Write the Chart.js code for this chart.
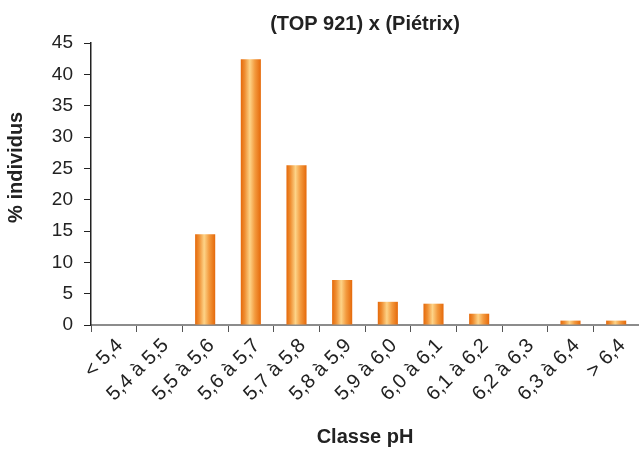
<!DOCTYPE html>
<html>
<head>
<meta charset="utf-8">
<script src="https://cdn.jsdelivr.net/npm/chart.js@4/dist/chart.umd.min.js"></script>
<style>
  html, body { margin: 0; padding: 0; background: #ffffff; }
  #wrap { width: 639px; height: 450px; }
</style>
</head>
<body>
<div id="wrap"><canvas id="c" width="639" height="450"></canvas></div>
<script>
// pH classes and share of individuals (%) in each class
const categories = ['< 5,4', '5,4 à 5,5', '5,5 à 5,6', '5,6 à 5,7', '5,7 à 5,8', '5,8 à 5,9',
                    '5,9 à 6,0', '6,0 à 6,1', '6,1 à 6,2', '6,2 à 6,3', '6,3 à 6,4', '> 6,4'];
const percentIndividus = [0, 0, 14.5, 42.4, 25.5, 7.2, 3.7, 3.4, 1.8, 0, 0.7, 0.7];
const yTicks = [0, 5, 10, 15, 20, 25, 30, 35, 40, 45];

const BAR_FRACTION = 0.44;
const FONT = "'Liberation Sans', Arial, Helvetica, sans-serif";

// cylinder-like horizontal gradient across each bar
function barGradient(context) {
  const chart = context.chart;
  const xs = chart.scales.x;
  if (!xs || xs.width === undefined) return '#f08a1c';
  const cx = xs.getPixelForValue(context.dataIndex);
  const w = xs.width / categories.length * BAR_FRACTION;
  const g = chart.ctx.createLinearGradient(cx - w / 2, 0, cx + w / 2, 0);
  g.addColorStop(0, '#e5690a');
  g.addColorStop(0.2, '#ef8f33');
  g.addColorStop(0.45, '#fdd387');
  g.addColorStop(0.7, '#f39a3e');
  g.addColorStop(1, '#e5690a');
  return g;
}

new Chart(document.getElementById('c'), {
  type: 'bar',
  data: {
    labels: categories,
    datasets: [{
      data: percentIndividus,
      backgroundColor: barGradient,
      borderWidth: 0,
      barPercentage: 0.55,
      categoryPercentage: 0.8
    }]
  },
  options: {
    responsive: false,
    animation: false,
    layout: { padding: { left: 0, right: 0, top: 0, bottom: 0 } },
    plugins: {
      legend: { display: false },
      tooltip: { enabled: false },
      title: {
        display: true,
        text: '(TOP 921) x (Piétrix)',
        fullSize: false,
        color: '#222222',
        font: { family: FONT, size: 20, weight: 'bold' },
        padding: { top: 12, bottom: 7 }
      }
    },
    scales: {
      x: {
        grid: {
          display: true,
          drawOnChartArea: false,
          drawTicks: true,
          tickLength: 7,
          color: '#555555',
          offset: true
        },
        border: { display: true, color: '#8c8c8c', width: 2 },
        ticks: {
          color: '#222222',
          font: { family: FONT, size: 20 },
          minRotation: 45,
          maxRotation: 45,
          autoSkip: false,
          labelOffset: 6,
          padding: 2
        },
        title: {
          display: true,
          text: 'Classe pH',
          color: '#222222',
          font: { family: FONT, size: 20, weight: 'bold' },
          padding: { top: 4, bottom: 1 }
        },
        afterFit: (scale) => { scale.height = 125; }
      },
      y: {
        min: 0,
        max: 45,
        afterBuildTicks: (scale) => { scale.ticks = yTicks.map(v => ({ value: v })); },
        grid: {
          display: true,
          drawOnChartArea: false,
          drawTicks: true,
          tickLength: 7,
          color: '#222222'
        },
        border: { display: true, color: '#222222', width: 1.5 },
        ticks: {
          color: '#222222',
          font: { family: FONT, size: 19 },
          padding: 11
        },
        title: {
          display: true,
          // leading spaces lift the label a little above the axis midpoint
          text: '      % individus',
          color: '#222222',
          font: { family: FONT, size: 20, weight: 'bold' },
          padding: { top: 4, bottom: 4 }
        },
        afterFit: (scale) => { scale.width = 91; }
      }
    }
  }
});
</script>
</body>
</html>
